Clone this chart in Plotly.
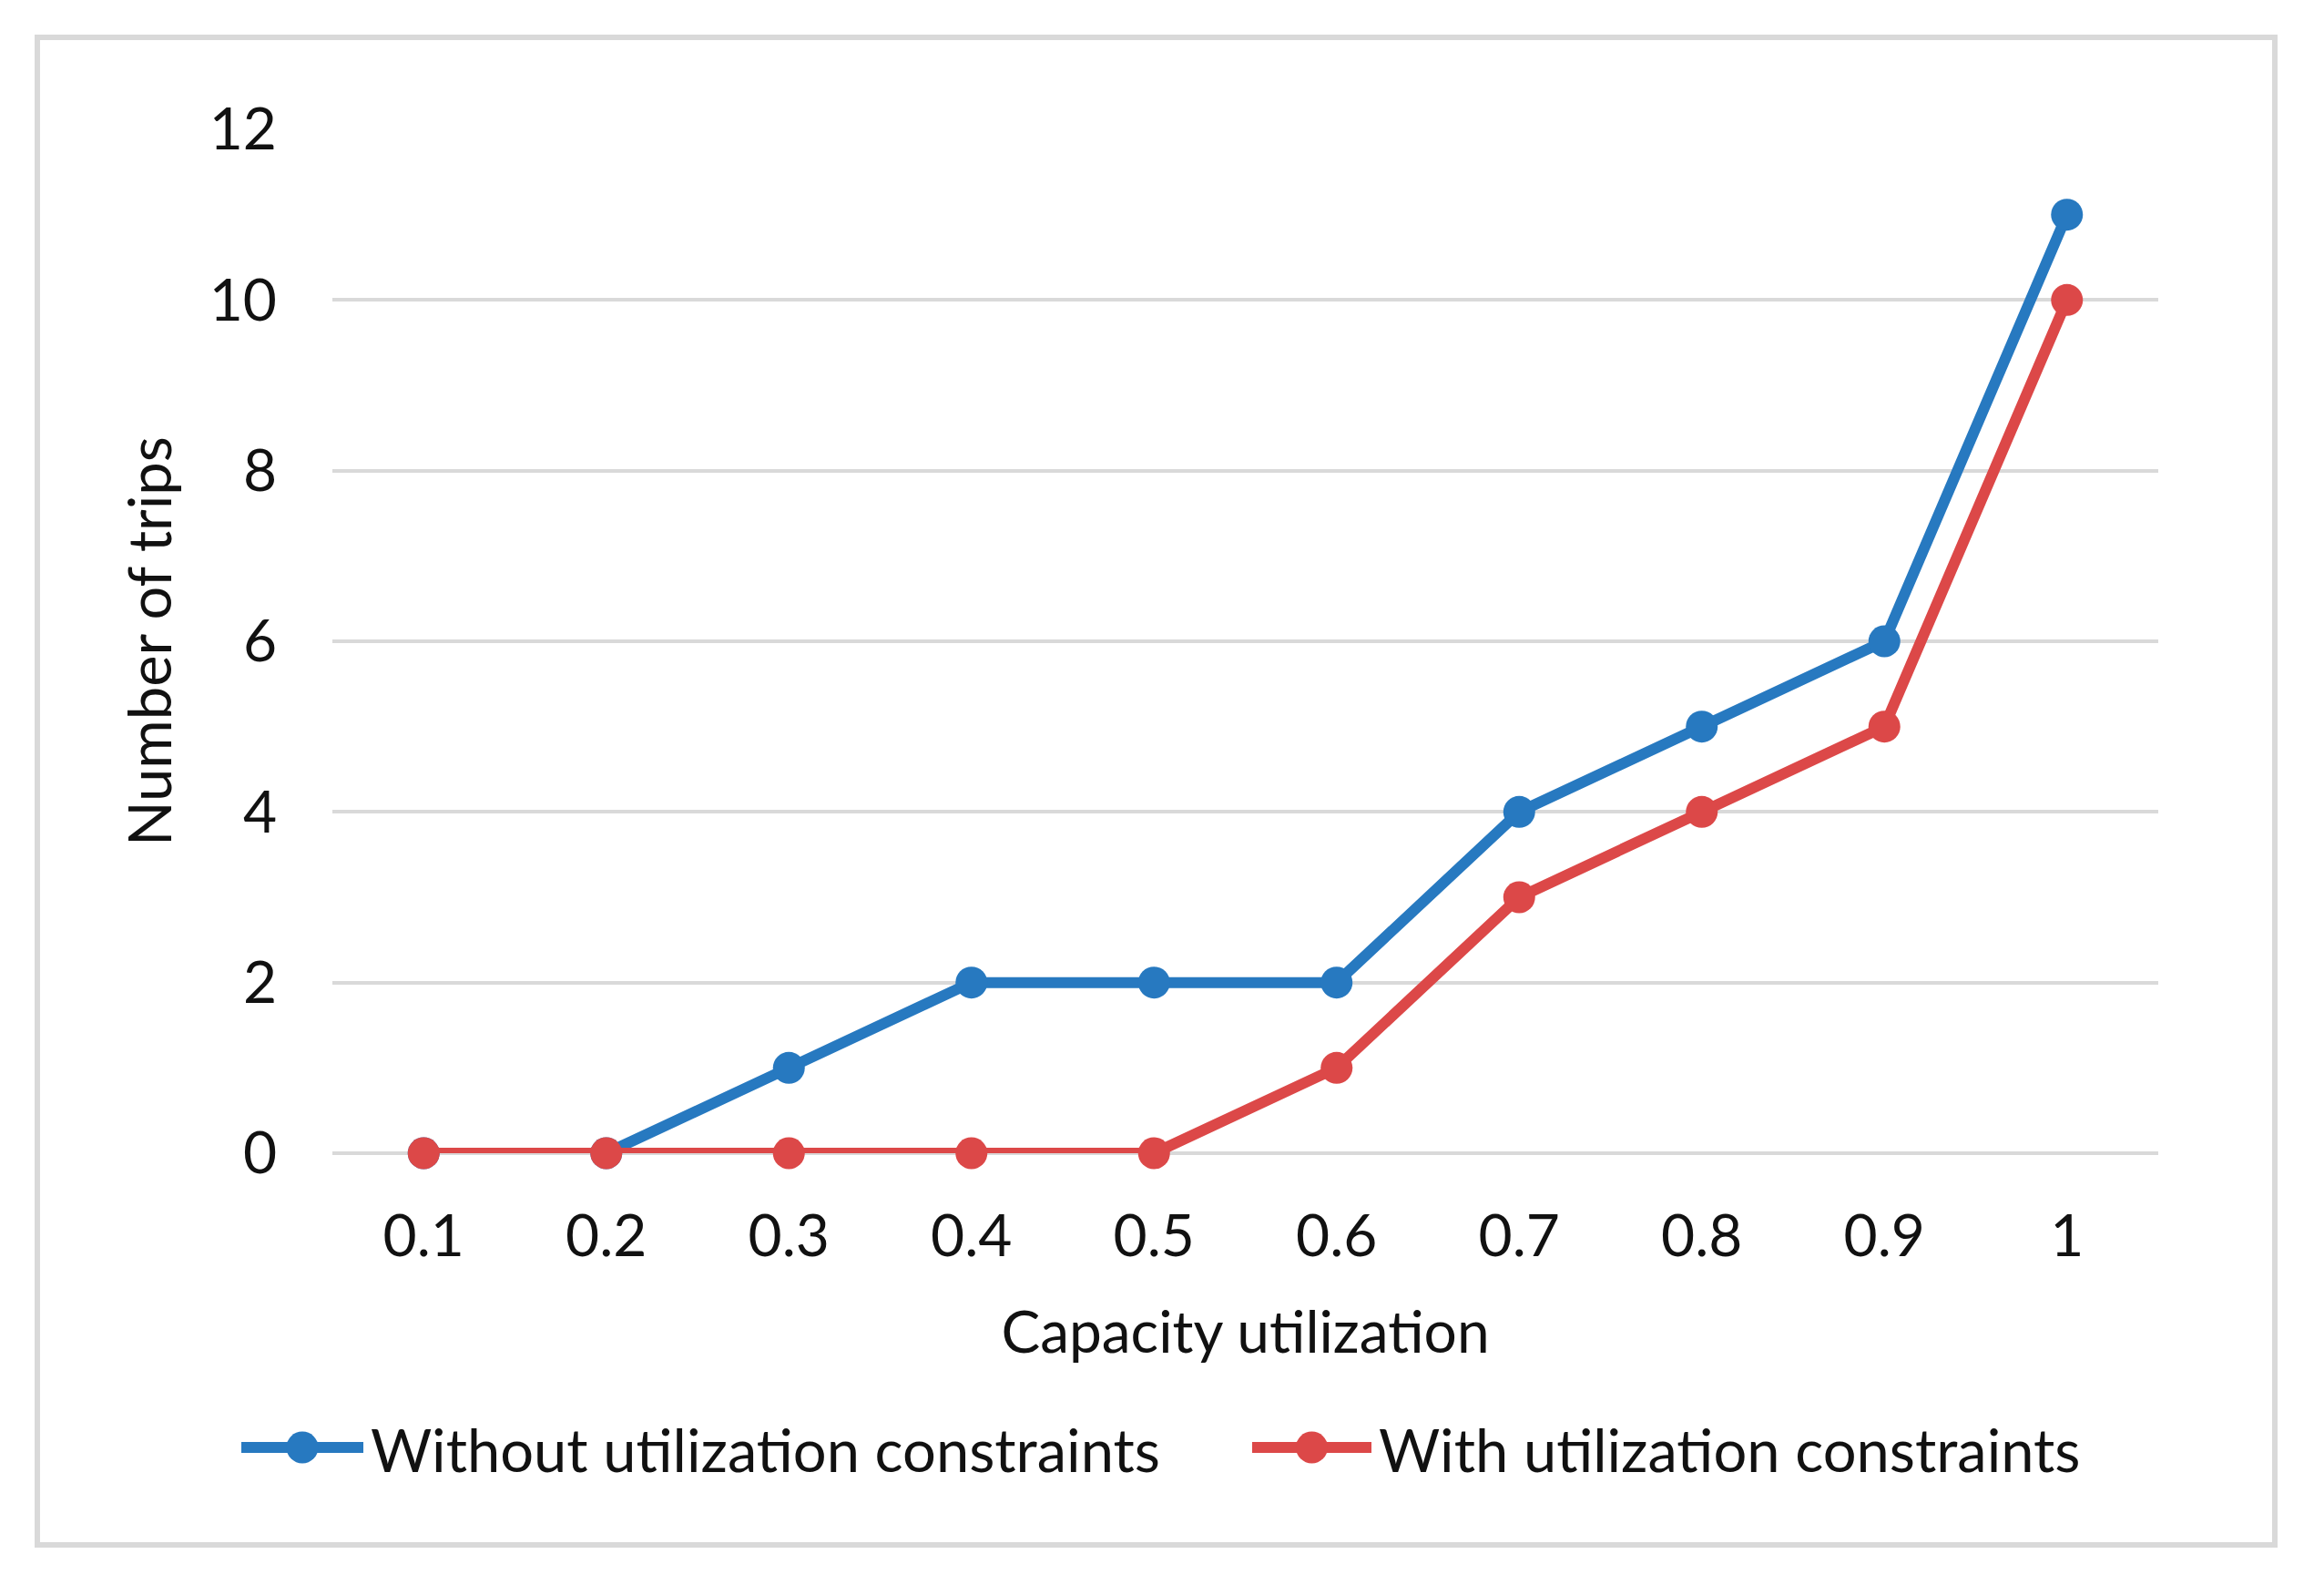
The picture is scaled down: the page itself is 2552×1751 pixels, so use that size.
import plotly.graph_objects as go

categories = ["0.1", "0.2", "0.3", "0.4", "0.5", "0.6", "0.7", "0.8", "0.9", "1"]
without_constraints = [0, 0, 1, 2, 2, 2, 4, 5, 6, 11]
with_constraints = [0, 0, 0, 0, 0, 1, 3, 4, 5, 10]
y_ticks = [0, 2, 4, 6, 8, 10, 12]
series_names = ["Without utilization constraints", "With utilization constraints"]

BLUE = "#2779c0"
RED = "#dc4848"
GRID = "#d9d9d9"
FONT = "Lato"
TEXT = "#111111"

# page has an 8px body margin; figure sized to fit without scrollbars
W, H = 2536, 1735
ML, MT = 357, 134
PLOT_R, PLOT_B = 2362, 1258
MR, MB = W - PLOT_R, H - PLOT_B
pw = W - ML - MR
ph = H - MT - MB


def px_x(X):
    return (X - ML) / pw


def px_y(Y):
    return (H - MB - Y) / ph


LINE_W = 12
MARK = 35

fig = go.Figure()
for name, vals, col in [(series_names[0], without_constraints, BLUE),
                        (series_names[1], with_constraints, RED)]:
    fig.add_trace(go.Scatter(
        x=categories, y=vals, mode="lines+markers", name=name,
        line=dict(color=col, width=LINE_W), marker=dict(size=MARK, color=col),
        cliponaxis=False, showlegend=False,
    ))

# outer chart border
fig.add_shape(type="rect", xref="paper", yref="paper",
              x0=px_x(33), x1=px_x(2490), y0=px_y(1688), y1=px_y(33),
              line=dict(color=GRID, width=6), fillcolor="rgba(0,0,0,0)", layer="below")

# legend (Excel style: long line with marker in the middle)
leg_y = 1581
leg_items = [(series_names[0], BLUE, 257, 391, 397), (series_names[1], RED, 1367, 1498, 1504)]
r = MARK / 2
for name, col, lx0, lx1, tx in leg_items:
    fig.add_shape(type="line", xref="paper", yref="paper",
                  x0=px_x(lx0), x1=px_x(lx1), y0=px_y(leg_y), y1=px_y(leg_y),
                  line=dict(color=col, width=LINE_W))
    cx = (lx0 + lx1) / 2
    fig.add_shape(type="circle", xref="paper", yref="paper",
                  x0=px_x(cx - r), x1=px_x(cx + r), y0=px_y(leg_y + r), y1=px_y(leg_y - r),
                  line=dict(color=col, width=0), fillcolor=col)
    fig.add_annotation(xref="paper", yref="paper", x=px_x(tx), y=px_y(leg_y + 2),
                       text=name, showarrow=False, xanchor="left", yanchor="middle",
                       font=dict(family=FONT, size=65, color=TEXT))

fig.update_layout(
    width=W, height=H,
    margin=dict(l=ML, r=MR, t=MT, b=MB, pad=0),
    paper_bgcolor="white", plot_bgcolor="white",
    font=dict(family=FONT, size=64, color=TEXT),
    showlegend=False,
    xaxis=dict(type="category", categoryorder="array", categoryarray=categories,
               range=[-0.5, len(categories) - 0.5],
               showgrid=False, showline=False, zeroline=False,
               ticks="", ticklabelstandoff=48,
               tickfont=dict(size=64),
               title=dict(text="Capacity utilization", font=dict(size=64), standoff=48)),
    yaxis=dict(range=[0, 12], tickvals=y_ticks,
               showgrid=True, gridcolor=GRID, gridwidth=4,
               zeroline=True, zerolinecolor=GRID, zerolinewidth=4,
               showline=False, ticks="", ticklabelstandoff=60,
               tickfont=dict(size=64),
               title=dict(text="Number of trips", font=dict(size=65), standoff=20)),
)

fig.write_html("out.html")
